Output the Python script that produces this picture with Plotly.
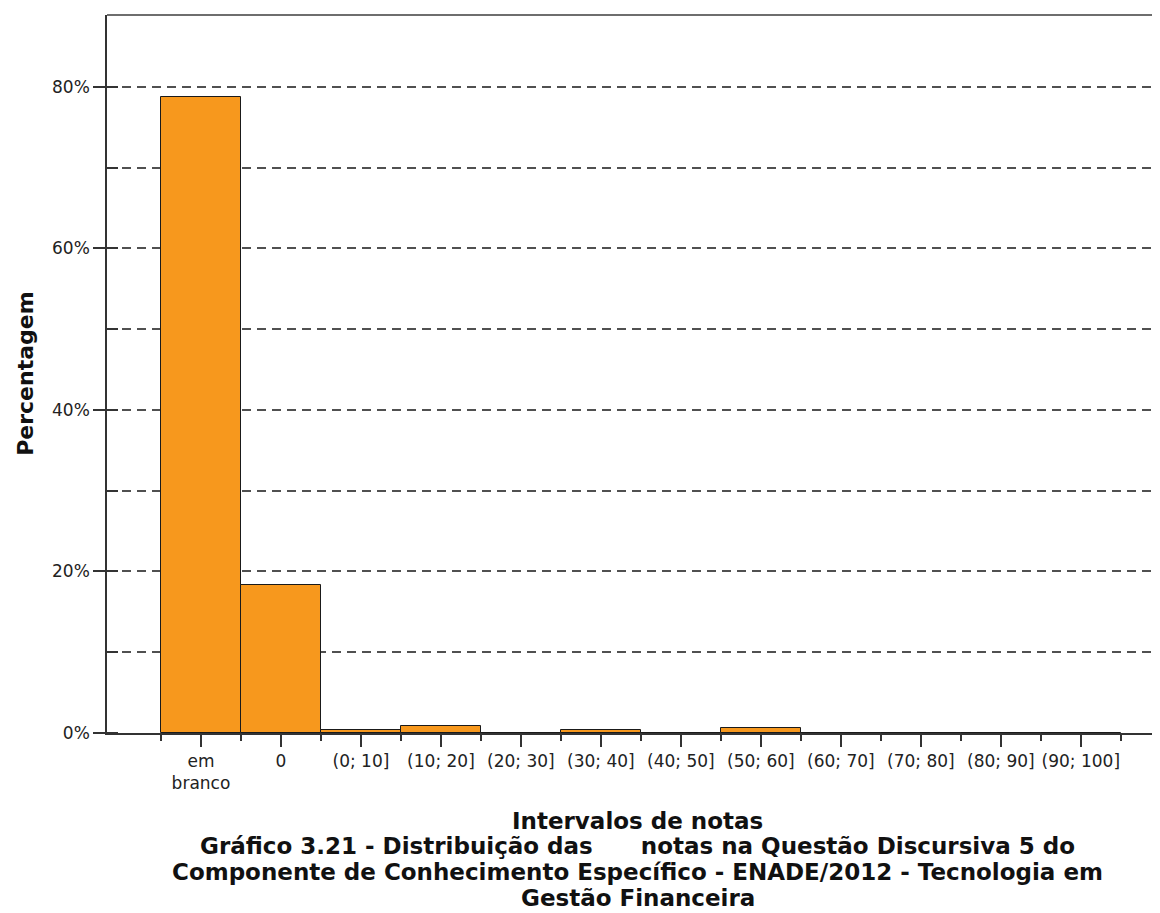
import plotly.graph_objects as go

categories = [
    "em<br>branco", "0", "(0; 10]", "(10; 20]", "(20; 30]", "(30; 40]",
    "(40; 50]", "(50; 60]", "(60; 70]", "(70; 80]", "(80; 90]", "(90; 100]"
]

percentages = [78.8, 18.3, 0.42, 0.9, 0.0, 0.4, 0.0, 0.67, 0.0, 0.0, 0.0, 0.0]

x_title = "Intervalos de notas"

caption_lines = [
    "Gráfico 3.21 - Distribuição das" + "\u00a0" * 6 + "notas na Questão Discursiva 5 do",
    "Componente de Conhecimento Específico - ENADE/2012 - Tecnologia em",
    "Gestão Financeira"
]

positions = list(range(len(categories)))

fig = go.Figure()

fig.add_trace(
    go.Bar(
        x=positions,
        y=percentages,
        width=1,
        marker=dict(
            color="#F7981D",
            line=dict(color="#1a1a1a", width=1)
        ),
        hovertemplate="%{y:.1f}%<extra></extra>"
    )
)

grid_style = dict(gridcolor="#505050", gridwidth=1.6, griddash="9px,6px")

# page body has an 8px margin, so the figure is offset by that amount
fig.update_layout(
    width=1152,
    height=905,
    margin=dict(l=99, r=0, t=7, b=180),
    paper_bgcolor="white",
    plot_bgcolor="white",
    showlegend=False,
    bargap=0,
    font=dict(family="DejaVu Sans", size=17, color="#222222"),
    xaxis=dict(
        range=[-1.175, 11.99],
        tickmode="array",
        tickvals=positions,
        ticktext=categories,
        ticks="outside",
        ticklen=12,
        tickwidth=1.5,
        tickcolor="#333333",
        showgrid=False,
        zeroline=False,
        showline=True,
        linecolor="#333333",
        linewidth=1.5,
        minor=dict(
            tick0=-0.5,
            dtick=1,
            ticks="outside",
            ticklen=6,
            tickwidth=1.5,
            tickcolor="#333333",
            showgrid=False
        ),
        tickfont=dict(family="DejaVu Sans", size=17, color="#222222")
    ),
    yaxis=dict(
        range=[0, 88.9],
        tick0=0,
        dtick=20,
        ticksuffix="%",
        ticks="outside",
        ticklen=12,
        tickwidth=1.5,
        tickcolor="#333333",
        showgrid=True,
        **grid_style,
        zeroline=False,
        showline=True,
        linecolor="#333333",
        linewidth=1.5,
        minor=dict(
            tick0=0,
            dtick=10,
            ticks="inside",
            ticklen=11,
            tickwidth=1.5,
            tickcolor="#333333",
            showgrid=True,
            **grid_style
        ),
        tickfont=dict(family="DejaVu Sans", size=17, color="#222222")
    )
)

# top frame line
fig.add_shape(
    type="line", xref="paper", yref="paper",
    x0=0, x1=1, y0=1, y1=1,
    line=dict(color="#6e6e6e", width=2)
)

fig.add_annotation(
    text="<b>Percentagem</b>",
    xref="paper", yref="paper",
    x=-0.078, y=0.5,
    xanchor="center", yanchor="middle",
    textangle=-90,
    showarrow=False,
    font=dict(family="DejaVu Sans", size=22, color="#111111")
)

title_lines = [x_title] + caption_lines
title_centers = [821, 846, 872, 898]

for line, center in zip(title_lines, title_centers):
    fig.add_annotation(
        text="<b>" + line + "</b>",
        xref="paper", yref="paper",
        x=0.504, y=0,
        xanchor="center", yanchor="middle",
        yshift=-(center - 733),
        showarrow=False,
        font=dict(family="DejaVu Sans", size=23, color="#111111")
    )

fig.write_html("out.html")
